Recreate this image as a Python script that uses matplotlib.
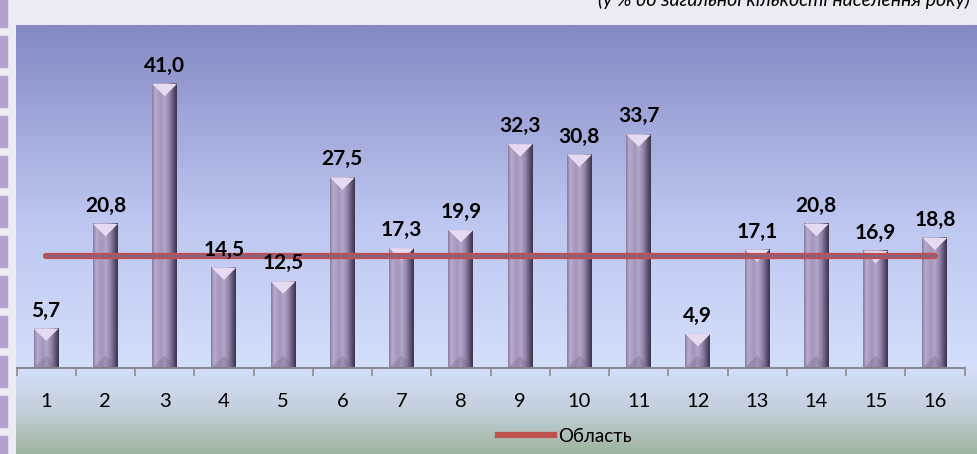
import numpy as np
import matplotlib.pyplot as plt
from matplotlib.colors import LinearSegmentedColormap
from matplotlib.patches import Polygon, Rectangle
from matplotlib.lines import Line2D

plt.rcParams['font.family'] = ['Lato', 'DejaVu Sans']

# data
categories = [str(i) for i in range(1, 17)]
values = [5.7, 20.8, 41.0, 14.5, 12.5, 27.5, 17.3, 19.9,
          32.3, 30.8, 33.7, 4.9, 17.1, 20.8, 16.9, 18.8]
region_value = 16.2
region_label = 'Область'
note = '(у % до загальної кількості населення року)'

W, H = 977, 454
fig = plt.figure(figsize=(W / 100, H / 100), dpi=100)
fig.patch.set_facecolor('#ECEAF3')

# decorative stripes on the left edge
for y0 in range(-4, H, 40):
    fig.patches.append(Rectangle((0, 1 - (y0 + 31) / H), 7 / W, 31 / H,
                                 transform=fig.transFigure, color='#B3A2CC', zorder=0))

# chart area background gradient
bg = fig.add_axes([16 / W, 0, (W - 16) / W, (H - 25) / H])
bg_cmap = LinearSegmentedColormap.from_list('bg', [
    (0.0, '#8589C4'), (0.45, '#BCC6F0'), (0.8, '#D4DFFB'),
    (0.9, '#C3CFDB'), (1.0, '#9EB49E')])
bg.imshow(np.linspace(0, 1, 256).reshape(-1, 1), aspect='auto', cmap=bg_cmap,
          extent=[0, 1, 0, 1])
bg.set_axis_off()

# main axes
ylim_top = (368 - 25) / 6.93
ax = fig.add_axes([16.5 / W, (H - 368) / H, 948 / W, (368 - 25) / H])
ax.set_facecolor('none')
x = np.arange(len(values))
bar_w = 0.42
bars = ax.bar(x, values, width=bar_w, color='none', zorder=2)

bar_cmap = LinearSegmentedColormap.from_list('bar', [
    (0.0, '#8A7CA2'), (0.12, '#B8AACD'), (0.35, '#A495BB'), (0.52, '#B4A7CA'),
    (0.72, '#8F81A5'), (0.88, '#5E5170'), (1.0, '#3D344E')])
grad = np.linspace(0, 1, 64).reshape(1, -1)

px_x = 948 / 16
px_y = (368 - 25) / ylim_top
bev = (bar_w / 2) * px_x / px_y

for b, v in zip(bars, values):
    x0, w = b.get_x(), b.get_width()
    ax.imshow(grad, extent=[x0, x0 + w, 0, v], aspect='auto', cmap=bar_cmap, zorder=2)
    ax.add_patch(Polygon([(x0, v), (x0 + w, v), (x0 + w / 2, v - bev)],
                         closed=True, color='#E6DAF1', lw=0, zorder=3))
    ax.add_patch(Polygon([(x0, 0), (x0 + w, 0), (x0 + w / 2, bev)],
                         closed=True, color='#6E6284', alpha=0.3, lw=0, zorder=3))
    ax.text(x0 + w / 2, v + 8 / px_y, f'{v:.1f}'.replace('.', ','), ha='center',
            va='bottom', fontsize=15, fontweight='bold', color='black', zorder=5)

# region line
ax.plot(x, [region_value] * len(x), color='#C0504D', lw=4.5,
        solid_capstyle='round', zorder=4)
ax.plot(x, [region_value] * len(x), color='#6E6A9C', lw=1.2, zorder=4)

ax.set_xlim(-0.5, len(values) - 0.5)
ax.set_ylim(0, ylim_top)
ax.set_xticks(x, categories)
ax.set_xticks(np.arange(-0.5, len(values)), minor=True)
ax.tick_params(axis='x', which='major', length=0, pad=18, labelsize=14.5)
ax.tick_params(axis='x', which='minor', length=6, width=1.2, color='#8C8C8C')
ax.set_yticks([])
for s in ['top', 'left', 'right']:
    ax.spines[s].set_visible(False)
ax.spines['bottom'].set_color('#8C8C8C')
ax.spines['bottom'].set_linewidth(1.5)

handle = Line2D([], [], color='#C0504D', lw=4.5)
fig.legend([handle], [region_label], loc='center', bbox_to_anchor=(565 / W, 1 - 436 / H),
           frameon=False, fontsize=13.5, handlelength=3, handletextpad=0.2)

fig.text(970 / W, 1 - 6 / H, note, ha='right', va='baseline', fontsize=14,
         style='italic', color='black')

fig.savefig('out.png', dpi=100, facecolor=fig.get_facecolor())
